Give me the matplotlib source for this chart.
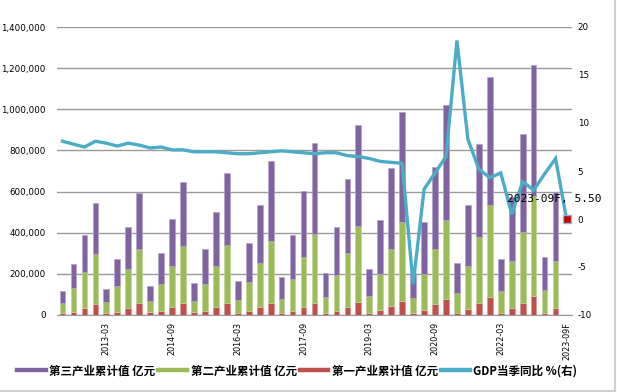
import matplotlib
matplotlib.use("Agg")
import matplotlib.pyplot as plt
from matplotlib.lines import Line2D
import numpy as np

quarters = [f"{y}-{m:02d}" for y in range(2012, 2024) for m in (3, 6, 9, 12)][:46] + ["2023-09F"]

total = [118500, 249000, 387000, 545000, 128000, 273000, 428000, 594000,
         141000, 301000, 468000, 645000, 155000, 320000, 499000, 691000,
         166000, 350000, 537000, 750000, 184000, 389000, 601000, 834000,
         206000, 428000, 663000, 925000, 223000, 463000, 716000, 989000,
         206000, 454000, 720000, 1019000, 252000, 537000, 829000, 1158000,
         273000, 572000, 881000, 1215000, 284000, 597000]
sec_top = [60000, 130000, 211000, 298000, 62000, 143000, 224000, 320000,
           68000, 150000, 239000, 337000, 68000, 153000, 240000, 341000,
           73000, 160000, 252000, 362000, 78000, 176000, 281000, 394000,
           86000, 195000, 301000, 434000, 93000, 200000, 320000, 450000,
           84000, 200000, 320000, 463000, 109000, 240000, 379000, 537000,
           119000, 263000, 403000, 577000, 122000, 263000]
primary = [8000, 16000, 33000, 52000, 11000, 16000, 33000, 57000,
           13000, 21000, 38000, 57000, 13000, 21000, 38000, 60000,
           11000, 21000, 38000, 60000, 11000, 21000, 38000, 60000,
           11000, 21000, 38000, 65000, 11000, 24000, 44000, 70000,
           11000, 24000, 52000, 78000, 11000, 28000, 57000, 86000,
           11000, 33000, 57000, 93000, 11000, 33000]
secondary = [s - p for s, p in zip(sec_top, primary)]
tertiary = [t - s for t, s in zip(total, sec_top)]

gdp_yoy = [8.1, 7.8, 7.5, 8.1, 7.9, 7.6, 7.9, 7.7,
           7.4, 7.5, 7.2, 7.2, 7.0, 7.0, 7.0, 6.9,
           6.8, 6.8, 6.9, 7.0, 7.1, 7.0, 6.9, 6.8,
           6.9, 6.9, 6.6, 6.5, 6.3, 6.0, 5.9, 5.8,
           -6.8, 3.1, 4.8, 6.5, 18.6, 8.3, 5.2, 4.3,
           4.8, 0.5, 3.9, 3.0, 4.7, 6.3, 0.0]
forecast_label = "2023-09F, 5.50"
forecast_value = 0.0

xtick_labels = ["2013-03", "2014-09", "2016-03", "2017-09", "2019-03", "2020-09", "2022-03", "2023-09F"]

C_PUR = "#8064A2"; C_GRN = "#9BBB59"; C_RED = "#C0504D"; C_LINE = "#4BACC6"

fig = plt.figure(figsize=(6.17, 3.92), dpi=100)
ax = fig.add_axes([57/617, 1-315/392, (572-57)/617, (315-27)/392])
ax2 = ax.twinx()

x = np.arange(len(quarters))
xb = x[:len(total)]
w = 0.52
ax.bar(xb, primary, w, color=C_RED, edgecolor="#D99694", linewidth=0.5, zorder=3)
ax.bar(xb, secondary, w, bottom=primary, color=C_GRN, edgecolor="#C3D69B", linewidth=0.5, zorder=3)
ax.bar(xb, tertiary, w, bottom=sec_top, color=C_PUR, edgecolor="#B3A2C7", linewidth=0.5, zorder=3)

ax.set_xlim(-0.5, len(quarters) - 0.5)
ax.set_ylim(0, 1400000)
ax.set_yticks(np.arange(0, 1400001, 200000))
ax.set_yticklabels([f"{v:,}" for v in range(0, 1400001, 200000)], fontsize=6.3)
ax.grid(axis="y", color="#9A9A9A", linewidth=1.0, zorder=0)
ax.set_axisbelow(True)
tick_pos = [quarters.index(t) for t in xtick_labels]
ax.set_xticks(tick_pos)
ax.set_xticklabels(xtick_labels, rotation=90, fontsize=5.8)
ax.tick_params(axis="y", length=0, pad=8)
ax.tick_params(axis="x", length=0, pad=5)
for s in ["top", "right", "left"]:
    ax.spines[s].set_visible(False)
ax.spines["bottom"].set_color("#9A9A9A")

ax2.plot(x, gdp_yoy, color=C_LINE, linewidth=2.4, zorder=4, solid_joinstyle="miter")
ax2.plot([x[-1]], [forecast_value], marker="s", markersize=6, color="#C00000",
         markeredgecolor="#95B3D7", markeredgewidth=1.0, linestyle="none", zorder=5)
ax2.text(x[-1] + 3.2, 2.1, forecast_label, ha="right", va="center",
         family="DejaVu Sans Mono", fontsize=8, clip_on=False, zorder=20)
ax2.set_ylim(-10, 20)
ax2.set_yticks(np.arange(-10, 21, 5))
ax2.set_yticklabels([str(v) for v in range(-10, 21, 5)], fontsize=6.3)
ax2.tick_params(axis="y", length=0, pad=4)
for s in ["top", "right", "left", "bottom"]:
    ax2.spines[s].set_visible(False)

handles = [Line2D([], [], color=C_PUR, lw=3.2),
           Line2D([], [], color=C_GRN, lw=3.2),
           Line2D([], [], color=C_RED, lw=3.2),
           Line2D([], [], color=C_LINE, lw=3.2)]
labels = ["第三产业累计值 亿元", "第二产业累计值 亿元", "第一产业累计值 亿元", "GDP当季同比 %(右)"]
fig.legend(handles, labels, loc="center left", bbox_to_anchor=(17/617, 1-371/392),
           ncol=4, frameon=False, borderpad=0, borderaxespad=0, handlelength=2.5,
           handletextpad=0.3, columnspacing=0.25,
           prop={"family": ["Noto Sans CJK SC", "DejaVu Sans"], "weight": "bold", "size": 8.3})

fig.add_artist(Line2D([0, 615/617], [1-390.5/392, 1-390.5/392], transform=fig.transFigure, color="#D0D0D0", lw=1.5))
fig.add_artist(Line2D([615/617, 615/617], [1-390.5/392, 1], transform=fig.transFigure, color="#D0D0D0", lw=1.5))

fig.savefig("out.png", dpi=100)
